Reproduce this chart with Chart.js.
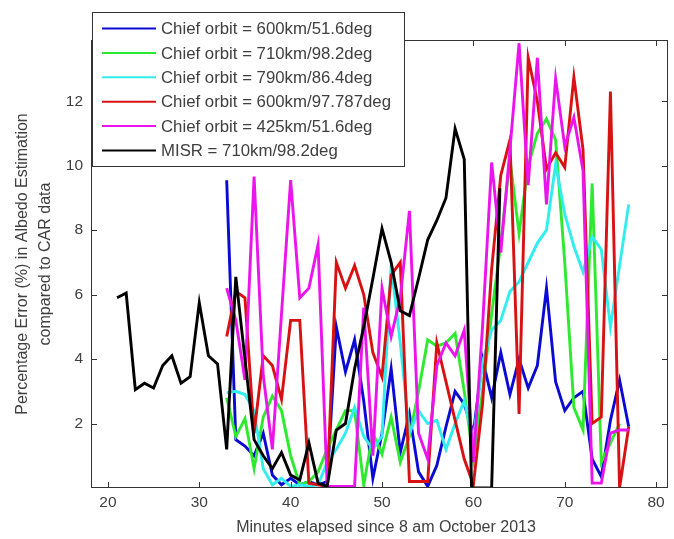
<!DOCTYPE html>
<html>
<head>
<meta charset="utf-8">
<script src="https://cdn.jsdelivr.net/npm/chart.js@4.4.1/dist/chart.umd.min.js"></script>
<style>
  html, body { margin: 0; padding: 0; background: #fff; }
  #wrap { width: 674px; height: 539px; }
</style>
</head>
<body>
<div id="wrap"><canvas id="albedoChart" width="674" height="539"></canvas></div>
<script>
// Albedo estimation error vs time, one series per chief orbit

const xTicks = [20, 30, 40, 50, 60, 70, 80];
const yTicks = [2, 4, 6, 8, 10, 12];

const seriesNames = [
    'Chief orbit = 600km/51.6deg',
    'Chief orbit = 710km/98.2deg',
    'Chief orbit = 790km/86.4deg',
    'Chief orbit = 600km/97.787deg',
    'Chief orbit = 425km/51.6deg',
    'MISR = 710km/98.2deg'
];
const seriesColors = ['#0a0ad2', '#2eea2e', '#30eeee', '#d81212', '#ec14ec', '#000000'];

const blueX = [33,34,35,36,37,38,39,40,41,42,43,44,45,46,47,48,49,50,51,52,53,54,55,56,57,58,59,60,61,62,63,64,65,66,67,68,69,70,71,72,73,74,75,76,77];
const blueY = [9.55,1.5,1.3,1.0,1.7,0.4,0.1,0.3,0.1,0.2,0.1,0.2,5.0,3.6,4.6,2.7,0.3,1.7,3.7,1.1,2.3,0.5,0.05,0.7,1.9,3.0,2.6,1.7,4.0,2.8,4.2,2.9,4.0,3.1,3.8,6.2,3.3,2.4,2.8,3.0,0.9,0.35,2.1,3.35,1.9];

const greenX = [33,34,35,36,37,38,39,40,41,42,43,44,45,46,47,48,49,50,51,52,53,54,55,56,57,58,59,60,61,62,63,64,65,66,67,68,69,70,71,72,73,74,75,76];
const greenY = [2.8,1.6,2.15,0.6,2.2,2.85,2.4,1.0,0.1,0.2,0.5,1.2,1.8,2.4,2.4,0.1,1.7,1.05,2.2,0.8,1.6,3.0,4.6,4.4,4.5,4.8,3.0,0.9,3.0,5.4,7.6,10.2,7.9,10.0,11.0,11.45,10.8,7.0,2.5,1.8,9.45,0.8,1.4,2.0];

const cyanX = [33,34,35,36,37,38,39,40,41,42,43,44,45,46,47,48,49,50,51,52,53,54,55,56,57,58,59,60,61,62,63,64,65,66,67,68,69,70,71,72,73,74,75,76,77];
const cyanY = [2.95,3.0,2.9,2.4,0.6,0.1,0.3,0.05,0.1,0.05,0.1,0.8,1.2,1.7,2.5,1.6,1.2,1.6,6.9,4.5,1.7,2.4,2.0,2.1,1.2,2.0,2.7,1.5,3.9,4.9,5.2,6.1,6.4,7.0,7.6,8.0,10.05,8.5,7.5,6.7,7.8,7.4,5.0,6.9,8.8];

const redX = [33,34,35,36,37,38,39,40,41,42,43,44,45,46,47,48,49,50,51,52,53,54,55,56,57,58,59,60,61,62,63,64,65,66,67,68,69,70,71,72,73,74,75,76,77];
const redY = [4.7,6.1,5.9,1.7,4.1,3.8,2.75,5.2,5.2,0.15,0.1,0.05,7.0,6.2,6.9,6.0,4.2,3.45,6.6,7.0,0.2,0.2,0.2,4.5,3.3,2.1,0.9,0.1,2.6,6.8,9.7,10.8,2.3,13.35,12.0,9.9,10.4,9.95,12.75,10.5,2.0,2.2,12.3,0.0,1.9];

const magentaX = [33,34,35,36,37,38,39,40,41,42,43,44,45,46,47,48,49,50,51,52,53,54,55,56,57,58,59,60,61,62,63,64,65,66,67,68,69,70,71,72,73,74,75,76,77];
const magentaY = [6.2,5.2,3.35,9.66,3.5,1.2,5.4,9.55,5.9,6.2,7.55,0.05,0.05,0.05,0.05,5.6,1.0,6.2,4.7,5.9,8.6,1.7,0.9,3.8,4.5,4.1,4.9,0.8,5.0,10.1,7.3,10.5,13.8,9.4,13.35,8.8,12.7,10.6,11.5,9.85,0.15,0.15,1.7,1.8,1.8];

const misrX = [21,22,23,24,25,26,27,28,29,30,31,32,33,34,35,36,37,38,39,40,41,42,43,44,45,46,47,48,49,50,51,52,53,54,55,56,57,58,59,59.8,61,62,62.9];
const misrY = [5.9,6.05,3.05,3.25,3.1,3.8,4.1,3.25,3.45,5.75,4.1,3.85,1.2,6.55,4.0,1.5,1.0,0.6,1.1,0.4,0.25,1.4,0.15,0.05,1.8,2.0,3.7,5.0,6.5,8.05,7.0,5.5,5.35,6.5,7.7,8.3,9.0,11.15,10.2,0,0,0,9.3];

const allX = [blueX, greenX, cyanX, redX, magentaX, misrX];
const allY = [blueY, greenY, cyanY, redY, magentaY, misrY];

const FONT = '"Liberation Sans", Arial, sans-serif';
const TEXT = '#404040';
const AXIS = '#333333';

function toPoints(xs, ys) {
    return xs.map(function (x, i) { return { x: x, y: ys[i] }; });
}

// white page, axes box with inward ticks, titles, legend drawn over the plot
const matlabLook = {
    id: 'matlabLook',
    beforeDraw: function (chart) {
        const ctx = chart.ctx;
        ctx.save();
        ctx.fillStyle = '#ffffff';
        ctx.fillRect(0, 0, chart.width, chart.height);
        ctx.restore();
    },
    afterDraw: function (chart) {
        const ctx = chart.ctx;
        const a = chart.chartArea;
        const xs = chart.scales.x;
        const ys = chart.scales.y;
        ctx.save();

        // box + ticks
        ctx.strokeStyle = AXIS;
        ctx.lineWidth = 1;
        ctx.strokeRect(a.left + 0.5, a.top + 0.5, a.right - a.left - 1, a.bottom - a.top - 1);
        ctx.beginPath();
        xTicks.forEach(function (v) {
            const px = Math.round(xs.getPixelForValue(v)) + 0.5;
            ctx.moveTo(px, a.bottom);
            ctx.lineTo(px, a.bottom - 6);
            ctx.moveTo(px, a.top);
            ctx.lineTo(px, a.top + 6);
        });
        yTicks.forEach(function (v) {
            const py = Math.round(ys.getPixelForValue(v)) + 0.5;
            ctx.moveTo(a.left, py);
            ctx.lineTo(a.left + 6, py);
            ctx.moveTo(a.right, py);
            ctx.lineTo(a.right - 6, py);
        });
        ctx.stroke();

        // axis titles
        ctx.fillStyle = TEXT;
        ctx.font = '16px ' + FONT;
        ctx.textAlign = 'center';
        ctx.textBaseline = 'middle';
        ctx.fillText('Minutes elapsed since 8 am October 2013', 386, 528);
        ctx.save();
        ctx.translate(23, (a.top + a.bottom) / 2);
        ctx.rotate(-Math.PI / 2);
        ctx.fillText('Percentage Error (%) in Albedo Estimation', 0, 0);
        ctx.fillText('compared to CAR data', 0, 23);
        ctx.restore();

        // legend box
        const lx = a.left + 1, ly = 12, lw = 404 - lx, lh = 166 - ly;
        ctx.fillStyle = '#ffffff';
        ctx.fillRect(lx, ly, lw, lh);
        ctx.strokeStyle = AXIS;
        ctx.strokeRect(lx + 0.5, ly + 0.5, lw, lh);
        ctx.font = '16.8px ' + FONT;
        ctx.textAlign = 'left';
        seriesNames.forEach(function (name, i) {
            const yy = 28.5 + i * 24.4;
            ctx.strokeStyle = seriesColors[i];
            ctx.lineWidth = 2;
            ctx.beginPath();
            ctx.moveTo(102, yy);
            ctx.lineTo(156, yy);
            ctx.stroke();
            ctx.fillStyle = TEXT;
            ctx.fillText(name, 161, yy + 1);
        });
        ctx.restore();
    }
};

const datasets = seriesNames.map(function (name, i) {
    return {
        label: name,
        data: toPoints(allX[i], allY[i]),
        borderColor: seriesColors[i],
        backgroundColor: seriesColors[i],
        borderWidth: 2.9,
        pointRadius: 0,
        tension: 0,
        fill: false,
        order: seriesNames.length - i
    };
});

new Chart(document.getElementById('albedoChart'), {
    type: 'line',
    data: { datasets: datasets },
    options: {
        responsive: false,
        animation: false,
        devicePixelRatio: 1,
        layout: { padding: { left: 0, top: 40, right: 6, bottom: 0 } },
        plugins: {
            legend: { display: false },
            tooltip: { enabled: false }
        },
        scales: {
            x: {
                type: 'linear',
                min: 18.15,
                max: 81.3,
                grid: { display: false, drawTicks: false },
                border: { display: false },
                afterBuildTicks: function (scale) {
                    scale.ticks = xTicks.map(function (v) { return { value: v }; });
                },
                afterFit: function (scale) { scale.height = 51; },
                ticks: {
                    padding: 5,
                    maxRotation: 0,
                    color: TEXT,
                    font: { family: FONT, size: 15.5 }
                }
            },
            y: {
                type: 'linear',
                min: 0,
                max: 13.9,
                grid: { display: false, drawTicks: false },
                border: { display: false },
                afterBuildTicks: function (scale) {
                    scale.ticks = yTicks.map(function (v) { return { value: v }; });
                },
                afterFit: function (scale) { scale.width = 91; },
                ticks: {
                    padding: 8,
                    color: TEXT,
                    font: { family: FONT, size: 15.5 }
                }
            }
        }
    },
    plugins: [matlabLook]
});
</script>
</body>
</html>
